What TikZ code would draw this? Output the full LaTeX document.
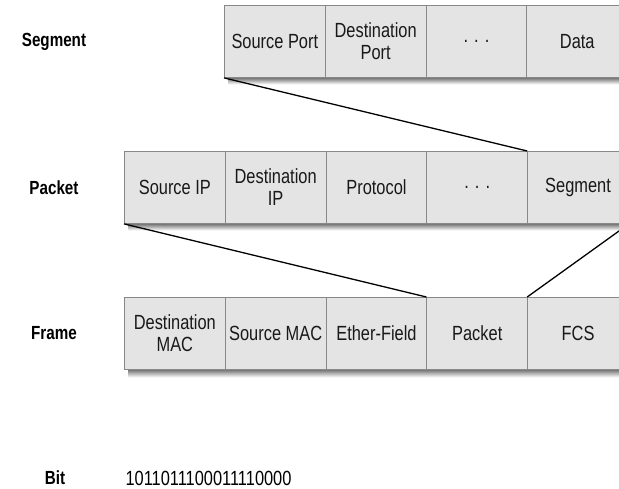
\documentclass[tikz,border=0pt]{standalone}
\usepackage{fontspec}
\usetikzlibrary{calc}
\setmainfont{Liberation Sans}[FakeStretch=0.8]
\definecolor{cellfill}{HTML}{E4E4E4}
\definecolor{cellline}{HTML}{888888}
\definecolor{shade}{HTML}{333333}
\tikzset{
  cell/.style={draw=cellline, line width=0.9pt, fill=cellfill, anchor=north west,
    minimum width=100.8pt, minimum height=72pt, inner sep=0pt,
    align=center, font=\fontsize{20.5}{22}\selectfont, text=black!90},
  rowlabel/.style={font=\fontsize{19}{21}\selectfont\bfseries},
  link/.style={line width=1.3pt, black},
}
\begin{document}
\begin{tikzpicture}[x=1pt,y=-1pt]
\useasboundingbox (0,0) rectangle (619,489);
\clip (0,0) rectangle (619,489);

% row labels
\node[rowlabel] (lseg) at (54,42) {Segment};
\node[rowlabel] (lpkt) at (54,188) {Packet};
\node[rowlabel] (lfrm) at (54,333) {Frame};
\node[rowlabel] (lbit) at (55,478) {Bit};
\node[font=\fontsize{20.5}{22}\selectfont, anchor=west] (bits) at (122,478) {1011011100011110000};

% segment
\node[cell] (s1) at (224,5) {Source Port};
\node[cell] (s2) at (324.8,5) {Destination\\Port};
\node[cell] (s3) at (425.6,5) {. . .};
\node[cell] (s4) at (526.4,5) {Data};
\fill[shade] ($(s1.south west)+(4,0.4)$) rectangle ($(s4.south east)+(0,6.5)$);

% packet
\node[cell] (p1) at (124,151) {Source IP};
\node[cell] (p2) at (224.8,151) {Destination\\IP};
\node[cell] (p3) at (325.6,151) {Protocol};
\node[cell] (p4) at (426.4,151) {. . .};
\node[cell] (p5) at (527.2,151) {Segment};
\fill[shade] ($(p1.south west)+(4,0.4)$) rectangle ($(p5.south east)+(0,6.5)$);

% frame
\node[cell] (f1) at (124,297) {Destination\\MAC};
\node[cell] (f2) at (224.8,297) {Source MAC};
\node[cell] (f3) at (325.6,297) {Ether-Field};
\node[cell] (f4) at (426.4,297) {Packet};
\node[cell] (f5) at (527.2,297) {FCS};
\fill[shade] ($(f1.south west)+(4,0.4)$) rectangle ($(f5.south east)+(0,7.5)$);

% encapsulation links
\draw[link] (s1.south west) -- (p5.north west);
\draw[link] (p1.south west) -- (f4.north west);
\draw[link] (p5.south east) -- (f5.north west);
\end{tikzpicture}
\end{document}
